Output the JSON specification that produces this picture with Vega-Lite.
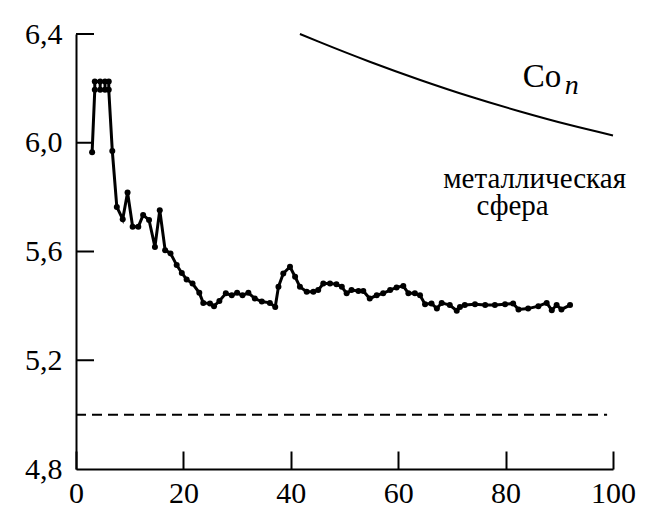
{
  "$schema": "https://vega.github.io/schema/vega-lite/v6.json",
  "width": 537,
  "height": 435,
  "autosize": "none",
  "padding": {"left": 76, "top": 34, "right": 37, "bottom": 46},
  "background": "white",
  "config": {
    "view": {"stroke": null},
    "font": "Liberation Serif",
    "axis": {
      "domainColor": "black",
      "domainWidth": 2,
      "tickColor": "black",
      "tickWidth": 2,
      "grid": false,
      "labelColor": "black",
      "title": null
    }
  },
  "datasets": {
    "series": [
      {"i": 1, "x": 3.0, "y": 5.965},
      {"i": 2, "x": 3.5, "y": 6.195},
      {"i": 3, "x": 3.5, "y": 6.225},
      {"i": 4, "x": 4.5, "y": 6.225},
      {"i": 5, "x": 4.5, "y": 6.195},
      {"i": 6, "x": 5.4, "y": 6.195},
      {"i": 7, "x": 5.4, "y": 6.225},
      {"i": 8, "x": 6.1, "y": 6.225},
      {"i": 9, "x": 6.1, "y": 6.195},
      {"i": 10, "x": 6.76, "y": 5.97},
      {"i": 11, "x": 7.6, "y": 5.764},
      {"i": 12, "x": 8.7, "y": 5.719},
      {"i": 13, "x": 9.6, "y": 5.817},
      {"i": 14, "x": 10.55, "y": 5.691},
      {"i": 15, "x": 11.6, "y": 5.691},
      {"i": 16, "x": 12.5, "y": 5.734},
      {"i": 17, "x": 13.6, "y": 5.716},
      {"i": 18, "x": 14.7, "y": 5.617},
      {"i": 19, "x": 15.6, "y": 5.752},
      {"i": 20, "x": 16.6, "y": 5.605},
      {"i": 21, "x": 17.6, "y": 5.593},
      {"i": 22, "x": 18.75, "y": 5.55},
      {"i": 23, "x": 19.7, "y": 5.521},
      {"i": 24, "x": 20.6, "y": 5.497},
      {"i": 25, "x": 21.7, "y": 5.482},
      {"i": 26, "x": 22.96, "y": 5.448},
      {"i": 27, "x": 23.7, "y": 5.411},
      {"i": 28, "x": 24.95, "y": 5.409},
      {"i": 29, "x": 25.7, "y": 5.399},
      {"i": 30, "x": 26.7, "y": 5.418},
      {"i": 31, "x": 27.9, "y": 5.446},
      {"i": 32, "x": 29.0, "y": 5.439},
      {"i": 33, "x": 30.0, "y": 5.448},
      {"i": 34, "x": 31.0, "y": 5.439},
      {"i": 35, "x": 32.1, "y": 5.448},
      {"i": 36, "x": 33.3, "y": 5.427},
      {"i": 37, "x": 34.6, "y": 5.416},
      {"i": 38, "x": 36.1, "y": 5.411},
      {"i": 39, "x": 37.1, "y": 5.396},
      {"i": 40, "x": 37.7, "y": 5.47},
      {"i": 41, "x": 38.6, "y": 5.519},
      {"i": 42, "x": 39.85, "y": 5.544},
      {"i": 43, "x": 40.8, "y": 5.507},
      {"i": 44, "x": 41.7, "y": 5.47},
      {"i": 45, "x": 42.96, "y": 5.452},
      {"i": 46, "x": 44.2, "y": 5.452},
      {"i": 47, "x": 45.1, "y": 5.458},
      {"i": 48, "x": 46.05, "y": 5.482},
      {"i": 49, "x": 47.3, "y": 5.482},
      {"i": 50, "x": 48.5, "y": 5.48},
      {"i": 51, "x": 49.5, "y": 5.47},
      {"i": 52, "x": 50.4, "y": 5.446},
      {"i": 53, "x": 51.3, "y": 5.458},
      {"i": 54, "x": 52.6, "y": 5.455},
      {"i": 55, "x": 53.5, "y": 5.455},
      {"i": 56, "x": 54.7, "y": 5.427},
      {"i": 57, "x": 56.0, "y": 5.439},
      {"i": 58, "x": 57.2, "y": 5.446},
      {"i": 59, "x": 58.5, "y": 5.458},
      {"i": 60, "x": 59.7, "y": 5.468},
      {"i": 61, "x": 60.95, "y": 5.473},
      {"i": 62, "x": 61.9, "y": 5.446},
      {"i": 63, "x": 63.1, "y": 5.446},
      {"i": 64, "x": 64.06, "y": 5.439},
      {"i": 65, "x": 65.0, "y": 5.406},
      {"i": 66, "x": 66.2, "y": 5.409},
      {"i": 67, "x": 67.2, "y": 5.39},
      {"i": 68, "x": 68.1, "y": 5.411},
      {"i": 69, "x": 69.6, "y": 5.403},
      {"i": 70, "x": 70.9, "y": 5.382},
      {"i": 71, "x": 71.5, "y": 5.396},
      {"i": 72, "x": 72.4, "y": 5.403},
      {"i": 73, "x": 74.3, "y": 5.406},
      {"i": 74, "x": 76.2, "y": 5.403},
      {"i": 75, "x": 78.0, "y": 5.403},
      {"i": 76, "x": 79.9, "y": 5.406},
      {"i": 77, "x": 81.4, "y": 5.409},
      {"i": 78, "x": 82.4, "y": 5.387},
      {"i": 79, "x": 84.2, "y": 5.39},
      {"i": 80, "x": 86.1, "y": 5.399},
      {"i": 81, "x": 87.65, "y": 5.411},
      {"i": 82, "x": 88.6, "y": 5.384},
      {"i": 83, "x": 89.5, "y": 5.403},
      {"i": 84, "x": 90.4, "y": 5.387},
      {"i": 85, "x": 92.0, "y": 5.403}
    ],
    "sphere": [
      {"x": 41.7, "y": 6.4},
      {"x": 45.4, "y": 6.37},
      {"x": 54.7, "y": 6.298},
      {"x": 64.1, "y": 6.231},
      {"x": 73.4, "y": 6.17},
      {"x": 82.7, "y": 6.115},
      {"x": 92.0, "y": 6.065},
      {"x": 100, "y": 6.027}
    ],
    "bulk": [
      {"x": 0, "x2": 98.9, "y": 5.0}
    ],
    "yticks": [
      {"x": 0, "x2": 3.35, "v": 5.2},
      {"x": 0, "x2": 3.35, "v": 5.6},
      {"x": 0, "x2": 3.35, "v": 6.0},
      {"x": 0, "x2": 3.35, "v": 6.4}
    ],
    "cluster": [
      {"x": 83.2, "y": 6.205, "t": "Co"}
    ],
    "subscript": [
      {"x": 91.0, "y": 6.178, "t": "n"}
    ],
    "sphereLabel": [
      {"x": 85.4, "y": 5.832, "t": "металлическая"},
      {"x": 81.3, "y": 5.734, "t": "сфера"}
    ]
  },
  "layer": [
    {
      "data": {"name": "bulk"},
      "mark": {"type": "rule", "color": "black", "strokeWidth": 2, "strokeDash": [10, 6]},
      "encoding": {
        "x": {"field": "x", "type": "quantitative", "scale": {"domain": [0, 100], "nice": false, "zero": false},
          "axis": {"values": [0, 20, 40, 60, 80, 100], "labelPadding": 27, "labelFlush": false, "tickSize": -18,
            "labelFont": "Liberation Serif", "labelFontSize": 30}},
        "x2": {"field": "x2"},
        "y": {"field": "y", "type": "quantitative", "scale": {"domain": [4.8, 6.4], "nice": false, "zero": false},
          "axis": {"values": [4.8, 5.2, 5.6, 6.0, 6.4], "ticks": false, "labelPadding": 14, "labelFlush": false,
            "labelFont": "Liberation Serif", "labelFontSize": 30,
            "labelExpr": "replace(format(datum.value, '.1f'), '.', ',')"}}
      }
    },
    {
      "data": {"name": "yticks"},
      "mark": {"type": "rule", "color": "black", "strokeWidth": 2},
      "encoding": {
        "x": {"field": "x", "type": "quantitative"},
        "x2": {"field": "x2"},
        "y": {"field": "v", "type": "quantitative"}
      }
    },
    {
      "data": {"name": "sphere"},
      "mark": {"type": "line", "color": "black", "strokeWidth": 2, "interpolate": "monotone"},
      "encoding": {
        "x": {"field": "x", "type": "quantitative"},
        "y": {"field": "y", "type": "quantitative"}
      }
    },
    {
      "data": {"name": "series"},
      "mark": {"type": "line", "color": "black", "strokeWidth": 3},
      "encoding": {
        "x": {"field": "x", "type": "quantitative"},
        "y": {"field": "y", "type": "quantitative"},
        "order": {"field": "i", "type": "quantitative"}
      }
    },
    {
      "data": {"name": "series"},
      "mark": {"type": "circle", "color": "black", "size": 36, "opacity": 1},
      "encoding": {
        "x": {"field": "x", "type": "quantitative"},
        "y": {"field": "y", "type": "quantitative"}
      }
    },
    {
      "data": {"name": "cluster"},
      "mark": {"type": "text", "color": "black", "baseline": "alphabetic", "align": "left",
        "font": "Liberation Serif", "fontSize": 33},
      "encoding": {
        "x": {"field": "x", "type": "quantitative"},
        "y": {"field": "y", "type": "quantitative"},
        "text": {"field": "t"}
      }
    },
    {
      "data": {"name": "subscript"},
      "mark": {"type": "text", "color": "black", "baseline": "alphabetic", "align": "left",
        "font": "Liberation Serif", "fontSize": 28, "fontStyle": "italic"},
      "encoding": {
        "x": {"field": "x", "type": "quantitative"},
        "y": {"field": "y", "type": "quantitative"},
        "text": {"field": "t"}
      }
    },
    {
      "data": {"name": "sphereLabel"},
      "mark": {"type": "text", "color": "black", "baseline": "alphabetic", "align": "center",
        "font": "Liberation Serif", "fontSize": 29},
      "encoding": {
        "x": {"field": "x", "type": "quantitative"},
        "y": {"field": "y", "type": "quantitative"},
        "text": {"field": "t"}
      }
    }
  ]
}
